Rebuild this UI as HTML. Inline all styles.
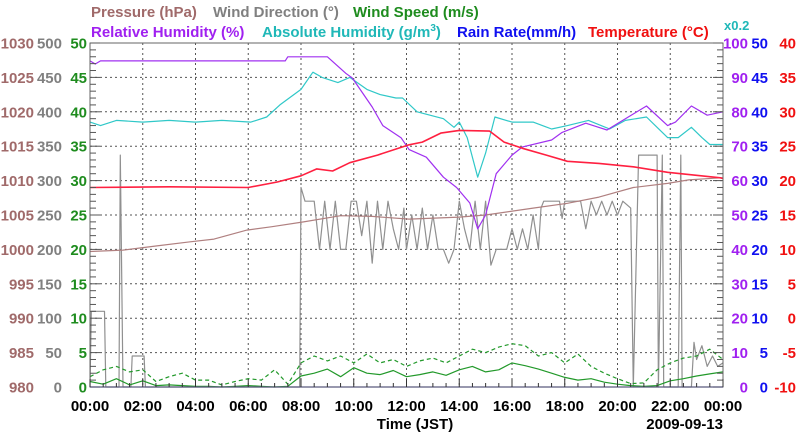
<!DOCTYPE html>
<html><head><meta charset="utf-8">
<style>
body{margin:0;background:#fff;}
svg{display:block;font-family:"Liberation Sans",Arial,sans-serif;font-weight:bold;}
</style></head>
<body>
<svg id="chart" width="800" height="434" viewBox="0 0 800 434" xmlns="http://www.w3.org/2000/svg">
<g font-size="15">
<text x="91" y="17" fill="#a06a6a">Pressure (hPa)</text>
<text x="213" y="17" fill="#808080">Wind Direction (°)</text>
<text x="353" y="17" fill="#1e8c1e">Wind Speed (m/s)</text>
<text x="91" y="37" fill="#a020f0">Relative Humidity (%)</text>
<text x="262" y="37" fill="#20b8b8">Absolute Humidity (g/m<tspan font-size="10" dy="-6">3</tspan><tspan dy="6">)</tspan></text>
<text x="457" y="37" fill="#1010f0">Rain Rate(mm/h)</text>
<text x="588" y="37" fill="#f01010">Temperature (°C)</text>
<text x="724" y="30" fill="#20b8b8" font-size="13">x0.2</text>
</g>
<g id="grid"></g>
<g id="series"></g>
<g id="axes"></g>
<text x="415" y="429" text-anchor="middle" font-size="15" fill="#000">Time (JST)</text>
<text x="723" y="429" text-anchor="end" font-size="15" fill="#000">2009-09-13</text>
</svg>
<script>
// ---- data ----
const xTickLabels = ["00:00","02:00","04:00","06:00","08:00","10:00","12:00","14:00","16:00","18:00","20:00","22:00","00:00"];
const pressureTicks = [980,985,990,995,1000,1005,1010,1015,1020,1025,1030];
const windDirTicks = [0,50,100,150,200,250,300,350,400,450,500];
const windSpeedTicks = [0,5,10,15,20,25,30,35,40,45,50];
const rhTicks = [0,10,20,30,40,50,60,70,80,90,100];
const rainTicks = [0,5,10,15,20,25,30,35,40,45,50];
const tempTicks = [-10,-5,0,5,10,15,20,25,30,35,40];

const rhHours = [0,0.2,0.4,7.4,7.5,9.0,9.7,9.95,10.7,11.1,11.8,12.1,12.75,13.4,13.9,14.4,14.7,15.0,15.4,16.0,16.4,17.5,17.9,18.8,19.6,20.3,21.1,21.9,22.2,22.8,23.4,24];
const rhValues = [94.8,93.9,94.8,94.8,96,96,91.2,89.8,81.4,76,72.4,69,66.8,61,58,53.5,46,50,62,67.4,69.8,71.8,74,76.7,74.7,78,81.7,76,77,81.7,79,80];

const ahHours = [0,0.4,1.0,2,3,4,5,6.1,6.7,7.2,8.0,8.45,8.8,9.4,9.85,10.5,11.0,11.6,11.85,12.4,13.4,13.8,14.0,14.3,14.7,15.0,15.35,16.0,16.8,17.5,18.1,18.9,19.7,20.3,21.1,21.9,22.3,22.8,23.2,23.5,24];
const ahValues = [15.4,15.2,15.5,15.4,15.5,15.4,15.5,15.4,15.7,16.4,17.3,18.3,18.0,17.7,18.0,17.3,17.0,16.8,16.8,16.0,15.6,15.1,15.4,14.5,12.2,13.6,15.7,15.4,15.4,15.0,15.2,15.5,15.0,15.5,15.7,14.5,14.5,15.1,14.5,14.1,14.1];

const tempHours = [0,3,6.0,7.1,8.0,8.6,9.2,9.85,10.9,12.1,12.6,13.3,14.0,15.15,15.7,16.4,17.3,18.1,19.3,20.6,21.9,22.9,23.9,24];
const tempValues = [19,19.1,19,19.8,20.7,21.7,21.4,22.6,23.7,25.2,25.6,26.9,27.3,27.2,25.6,24.7,23.7,22.8,22.5,22,21.2,20.8,20.4,20.3];

const presHours = [0,1.25,2.5,3.8,4.7,5.95,6.9,8.1,9.5,10.7,12.1,14.0,15.0,16.8,18.1,19.3,20.6,21.9,22.7,23.9,24];
const presValues = [999.7,999.9,1000.5,1001.1,1001.5,1002.8,1003.3,1004.0,1004.9,1004.8,1004.4,1004.7,1005.0,1006.0,1006.7,1007.6,1009.0,1009.6,1010.1,1010.4,1010.4];

const wdHours = [0,0.05,0.55,0.6,1.1,1.15,1.25,1.55,1.6,2.05,2.1,7.95,8.0,8.15,8.5,8.7,8.9,9.1,9.3,9.5,9.7,9.9,10.1,10.3,10.5,10.7,10.9,11.1,11.3,11.5,11.7,11.9,12.0,12.2,12.4,12.6,12.8,13.0,13.2,13.4,13.6,13.8,14.0,14.2,14.4,14.6,14.8,15.0,15.2,15.4,15.8,16.0,16.2,16.4,16.6,16.8,17.0,17.1,17.2,17.8,17.9,18.0,18.6,18.8,19.0,19.2,19.4,19.6,19.8,20.0,20.2,20.5,20.6,20.8,21.5,21.55,21.7,21.75,22.3,22.4,22.45,22.8,22.9,23.0,23.2,23.4,23.6,23.8,24];
const wdValues = [0,110,110,0,0,337,0,0,45,45,0,0,290,270,270,200,270,200,270,200,200,270,270,220,270,180,270,200,270,230,200,260,200,250,200,260,200,250,200,200,180,200,270,230,200,270,200,270,177,200,200,230,200,230,200,250,200,260,270,270,245,270,270,230,270,250,270,250,270,250,270,260,0,337,337,0,337,0,0,337,0,0,65,40,60,30,45,30,35];

const wsHours = [0,0.5,1,1.5,2,2.5,3,3.5,4,4.5,5,5.5,6,6.5,7,7.5,8,8.5,9,9.5,10,10.5,11,11.5,12,12.5,13,13.5,14,14.5,15,15.5,16,16.5,17,17.5,18,18.5,19,19.5,20,20.5,21,21.5,22,22.5,23,23.5,24];
const wsAvg = [0.8,0.4,1.2,0.3,0.9,0.2,0.3,0.2,0.1,0.1,0.0,0.1,0.2,0.1,0.0,0.1,1.6,2.0,2.6,1.5,2.8,2.0,1.8,2.4,1.5,1.8,2.2,1.7,2.5,3.0,2.2,2.5,3.5,3.1,2.6,2.0,1.4,1.0,1.2,0.7,0.4,0.2,0.1,0.2,0.9,1.2,1.6,1.9,2.2];
const wsGust = [1.5,2.5,3.0,2.2,2.5,0.8,1.5,2.0,1.0,1.0,0.3,0.8,1.2,1.0,2.5,0.4,3.5,4.5,3.8,4.5,3.5,4.8,3.5,4.0,3.0,3.8,4.2,3.5,4.5,5.5,5.0,5.8,6.3,6.0,4.5,5.0,3.5,4.8,3.0,2.0,1.2,0.5,0.6,2.5,3.5,4.2,4.5,5.5,4.0];

const rainHours = [0,24];
const rainValues = [0,0];

// ---- layout ----
const L=90,R=723,T=43,B=387;
const NS='http://www.w3.org/2000/svg';
function xS(h){return L+(R-L)*h/24;}
function yLin(min,max){return v=>B-(B-T)*(v-min)/(max-min);}
const yPres=yLin(980,1030), yWD=yLin(0,500), yWS=yLin(0,50), yRH=yLin(0,100), yAH=yLin(0,20), yRain=yLin(0,50), yTemp=yLin(-10,40);
function mk(tag,attrs,parent){const e=document.createElementNS(NS,tag);for(const k in attrs)e.setAttribute(k,attrs[k]);parent.appendChild(e);return e;}
const grid=document.getElementById('grid'), series=document.getElementById('series'), axes=document.getElementById('axes');

// grid lines
for(let i=1;i<12;i++){const x=xS(i*2);
 const g=mk('line',{x1:x,x2:x,y1:T,y2:B,stroke:'#555','stroke-width':1,'stroke-dasharray':'2,3'},grid);
 
 }
for(let i=1;i<10;i++){const y=yWS(i*5);
 const g=mk('line',{x1:L,x2:R,y1:y,y2:y,stroke:'#555','stroke-width':1,'stroke-dasharray':'2,3'},grid);
 
 }

function poly(hs,vs,ys,color,name,extra){
 const pts=hs.map((h,i)=>xS(h).toFixed(1)+','+ys(vs[i]).toFixed(1)).join(' ');
 const p=mk('polyline',Object.assign({points:pts,fill:'none',stroke:color,'stroke-width':1.2,'stroke-linejoin':'round'},extra||{}),series);
 
 
}
poly(wdHours,wdValues,yWD,'#909090','wind-direction-line');
poly(presHours,presValues,yPres,'#b08080','pressure-line');
poly(wsHours,wsGust,yWS,'#22992a','wind-gust-line',{'stroke-dasharray':'4,3'});
poly(wsHours,wsAvg,yWS,'#22992a','wind-speed-line');
poly(rainHours,rainValues,yRain,'#3030e0','rain-rate-line');
poly(ahHours,ahValues,yAH,'#30c8c8','absolute-humidity-line');
poly(rhHours,rhValues,yRH,'#a030f0','relative-humidity-line');
poly(tempHours,tempValues,yTemp,'#ff2040','temperature-line',{'stroke-width':1.6});

// frame
const fr=mk('rect',{x:L,y:T,width:R-L,height:B-T,fill:'none',stroke:'#666','stroke-width':1},axes);


// minor/major ticks on y axes
for(let i=0;i<=50;i++){const y=yWS(i);const len=(i%5===0)?10:6;
 const a=mk('line',{x1:L,x2:L+len,y1:y,y2:y,stroke:'#555','stroke-width':1},axes);
 
 
 const b=mk('line',{x1:R-len,x2:R,y1:y,y2:y,stroke:'#555','stroke-width':1},axes);
 
 }
for(let i=0;i<=48;i++){const x=xS(i/2);const len=(i%4===0)?8:4;
 const t=mk('line',{x1:x,x2:x,y1:B-len,y2:B,stroke:'#333','stroke-width':1},axes);
 
 }

function label(x,y,txt,color,anchor,name){
 const t=mk('text',{x:x,y:y,fill:color,'text-anchor':anchor,'font-size':15},axes);
 t.textContent=txt;
 
 }
for(let i=0;i<11;i++){const y=yWS(i*5)+5.5;
 label(34,y,pressureTicks[i],'#a06a6a','end','pressure-tick-label');
 label(62,y,windDirTicks[i],'#808080','end','wind-direction-tick-label');
 label(87,y,windSpeedTicks[i],'#1e8c1e','end','wind-speed-tick-label');
 label(748,y,rhTicks[i],'#a020f0','end','humidity-tick-label');
 label(768,y,rainTicks[i],'#1010f0','end','rain-rate-tick-label');
 label(796,y,tempTicks[i],'#f01010','end','temperature-tick-label');}
xTickLabels.forEach((s,i)=>label(xS(i*2),411,s,'#000','middle','x-tick-label'));
</script>
</body></html>
